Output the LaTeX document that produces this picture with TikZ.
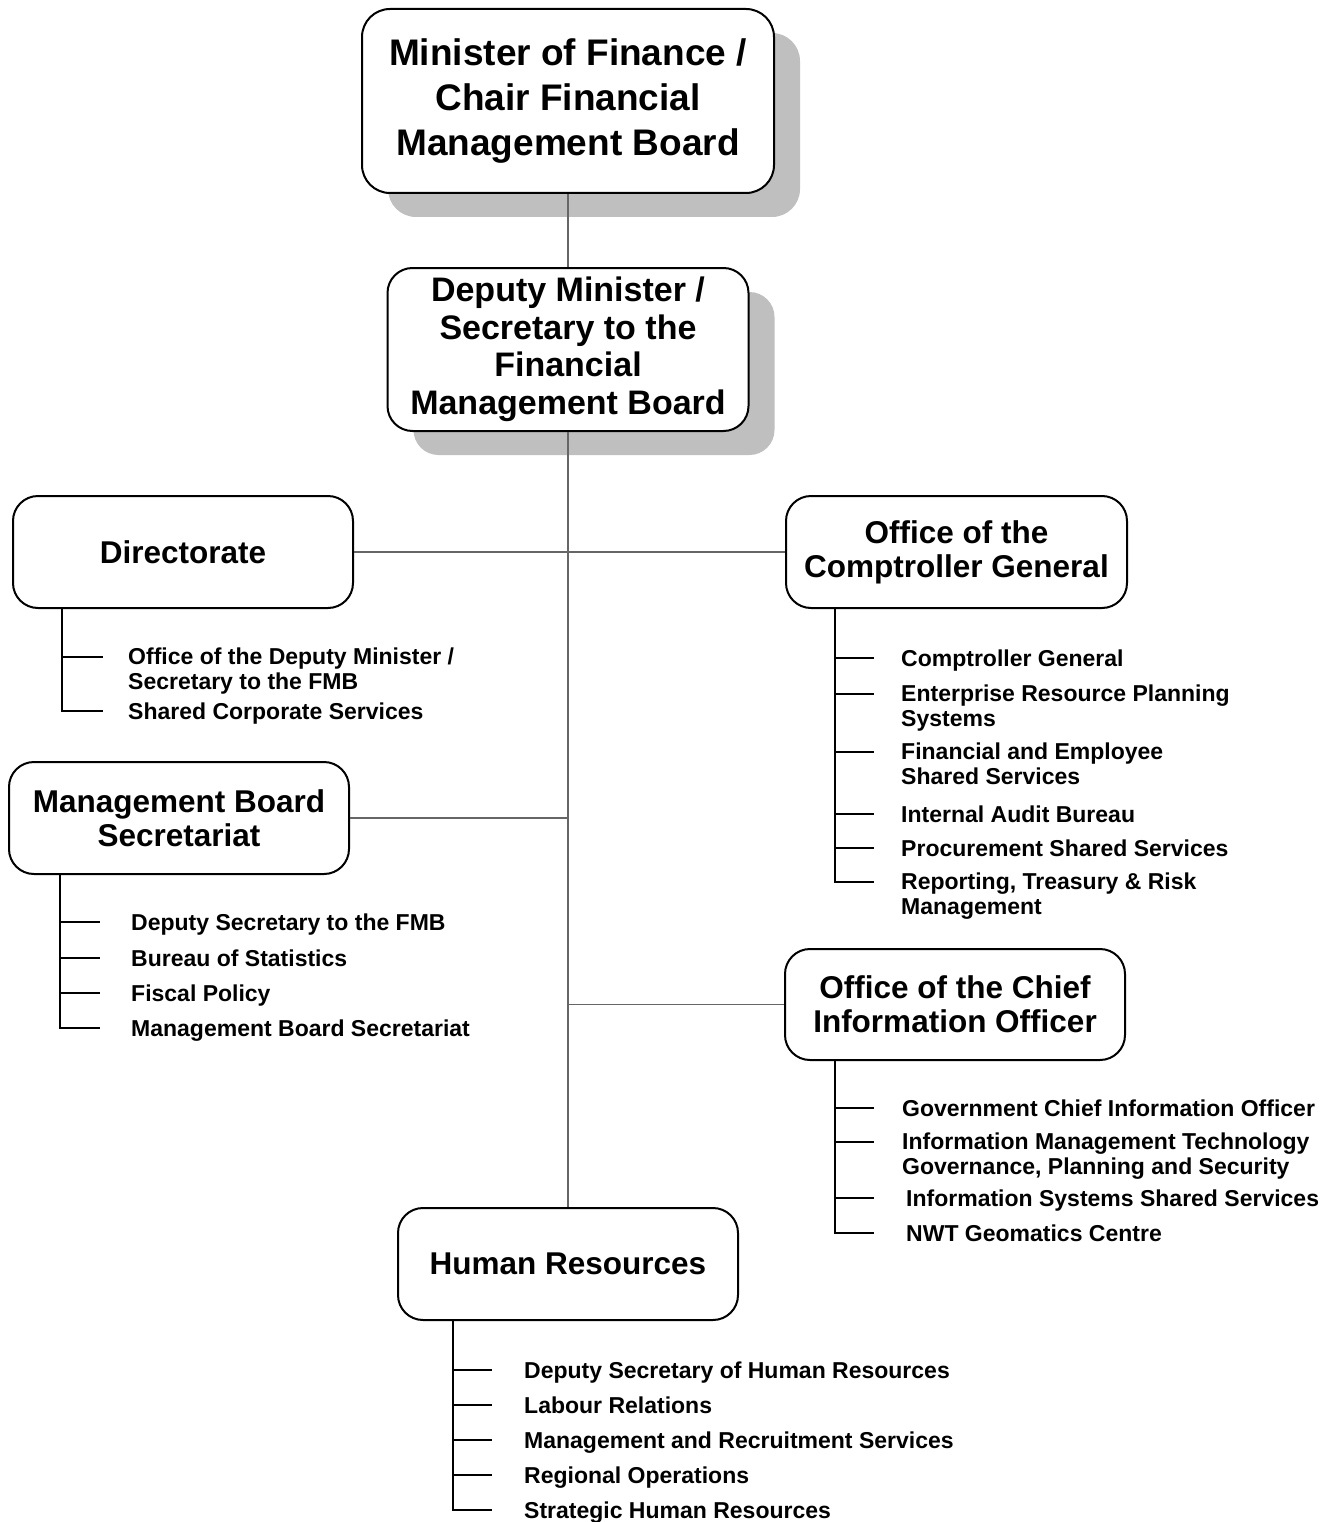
\documentclass[tikz,border=0pt]{standalone}
\usepackage{fontspec}
\setmainfont{Liberation Sans}
\usetikzlibrary{shadows}
\begin{document}
\begin{tikzpicture}[x=1pt,y=-1pt,
  box/.style={draw=black, line width=2pt, rounded corners=25pt, fill=white, align=center,
    font=\bfseries\fontsize{31.5}{34}\selectfont, inner sep=0pt},
  bigshadow/.style={drop shadow={shadow xshift=26pt, shadow yshift=-24pt, fill=black!25, opacity=1}},
  conn/.style={draw=black!60, line width=1.3pt},
  sub/.style={draw=black, line width=2pt},
  item/.style={anchor=base west, align=left, inner sep=0pt,
    font=\bfseries\fontsize{23}{24.5}\selectfont},
]
\useasboundingbox (0,0) rectangle (1337,1522);

% main boxes
\node[box, bigshadow, minimum width=412pt, minimum height=184pt, rounded corners=28pt,
  font=\bfseries\fontsize{37}{45}\selectfont] (min) at (568,101)
  {Minister of Finance /\\Chair Financial\\Management Board};
\node[box, bigshadow, minimum width=361pt, minimum height=163pt,
  font=\bfseries\fontsize{34}{37.5}\selectfont] (dep) at (568,349.5)
  {Deputy Minister /\\Secretary to the\\Financial\\Management Board};
\node[box, minimum width=340pt, minimum height=112pt] (dir) at (183,552) {Directorate};
\node[box, minimum width=341pt, minimum height=112pt] (ocg) at (956.5,552) {Office of the\\Comptroller General};
\node[box, minimum width=340pt, minimum height=112pt] (mbs) at (179,818) {Management Board\\Secretariat};
\node[box, minimum width=340pt, minimum height=111pt] (ocio) at (955,1004.5) {Office of the Chief\\Information Officer};
\node[box, minimum width=340pt, minimum height=112pt] (hr) at (568,1264) {Human Resources};

% connectors between main boxes
\draw[conn] (min.south) -- (dep.north);
\draw[conn] (dep.south) -- (hr.north);
\draw[conn] (dir.east) -- (ocg.west);
\draw[conn] (mbs.east) -- (mbs.east -| dep.south);
\draw[conn] (ocio.west) -- (ocio.west -| dep.south);

% Directorate items
\node[item] (d1) at (128,689) {Office of the Deputy Minister /\\Secretary to the FMB};
\node[item] (d2) at (128,719) {Shared Corporate Services};
% MBS items
\node[item] (m1) at (131,930) {Deputy Secretary to the FMB};
\node[item] (m2) at (131,966) {Bureau of Statistics};
\node[item] (m3) at (131,1001) {Fiscal Policy};
\node[item] (m4) at (131,1036) {Management Board Secretariat};
% OCG items
\node[item] (o1) at (901,666) {Comptroller General};
\node[item] (o2) at (901,726) {Enterprise Resource Planning\\Systems};
\node[item] (o3) at (901,784) {Financial and Employee\\Shared Services};
\node[item] (o4) at (901,822) {Internal Audit Bureau};
\node[item] (o5) at (901,856) {Procurement Shared Services};
\node[item] (o6) at (901,914) {Reporting, Treasury \& Risk\\Management};
% OCIO items
\node[item] (c1) at (902,1116) {Government Chief Information Officer};
\node[item] (c2) at (902,1174) {Information Management Technology\\Governance, Planning and Security};
\node[item] (c3) at (906,1206) {Information Systems Shared Services};
\node[item] (c4) at (906,1241) {NWT Geomatics Centre};
% HR items
\node[item] (h1) at (524,1378) {Deputy Secretary of Human Resources};
\node[item] (h2) at (524,1413) {Labour Relations};
\node[item] (h3) at (524,1448) {Management and Recruitment Services};
\node[item] (h4) at (524,1483) {Regional Operations};
\node[item] (h5) at (524,1518) {Strategic Human Resources};

% tick anchor points (middle of the first text line)
\foreach \i in {d2,m1,m2,m3,m4,o1,o4,o5,c1,c3,c4,h1,h2,h3,h4,h5}
  \coordinate (\i t) at ([yshift=8pt]\i.base west);
\foreach \i in {d1,o2,o3,o6,c2}
  \coordinate (\i t) at ([yshift=32.5pt]\i.base west);

% spines and ticks
\coordinate (dsp) at ([xshift=50pt]dir.south west);
\coordinate (dte) at (103,0);
\draw[sub] (dsp) |- (dte |- d2t);
\draw[sub] (dsp |- d1t) -- (dte |- d1t);

\coordinate (msp) at ([xshift=52pt]mbs.south west);
\coordinate (mte) at (100,0);
\draw[sub] (msp) |- (mte |- m4t);
\foreach \i in {m1,m2,m3}
  \draw[sub] (msp |- \i t) -- (mte |- \i t);

\coordinate (osp) at ([xshift=50pt]ocg.south west);
\coordinate (ote) at (874,0);
\draw[sub] (osp) |- (ote |- o6t);
\foreach \i in {o1,o2,o3,o4,o5}
  \draw[sub] (osp |- \i t) -- (ote |- \i t);

\coordinate (csp) at ([xshift=51pt]ocio.south west);
\coordinate (cte) at (874,0);
\draw[sub] (csp) |- (cte |- c4t);
\foreach \i in {c1,c2,c3}
  \draw[sub] (csp |- \i t) -- (cte |- \i t);

\coordinate (hsp) at ([xshift=56pt]hr.south west);
\coordinate (hte) at (492,0);
\draw[sub] (hsp) |- (hte |- h5t);
\foreach \i in {h1,h2,h3,h4}
  \draw[sub] (hsp |- \i t) -- (hte |- \i t);
\end{tikzpicture}
\end{document}
